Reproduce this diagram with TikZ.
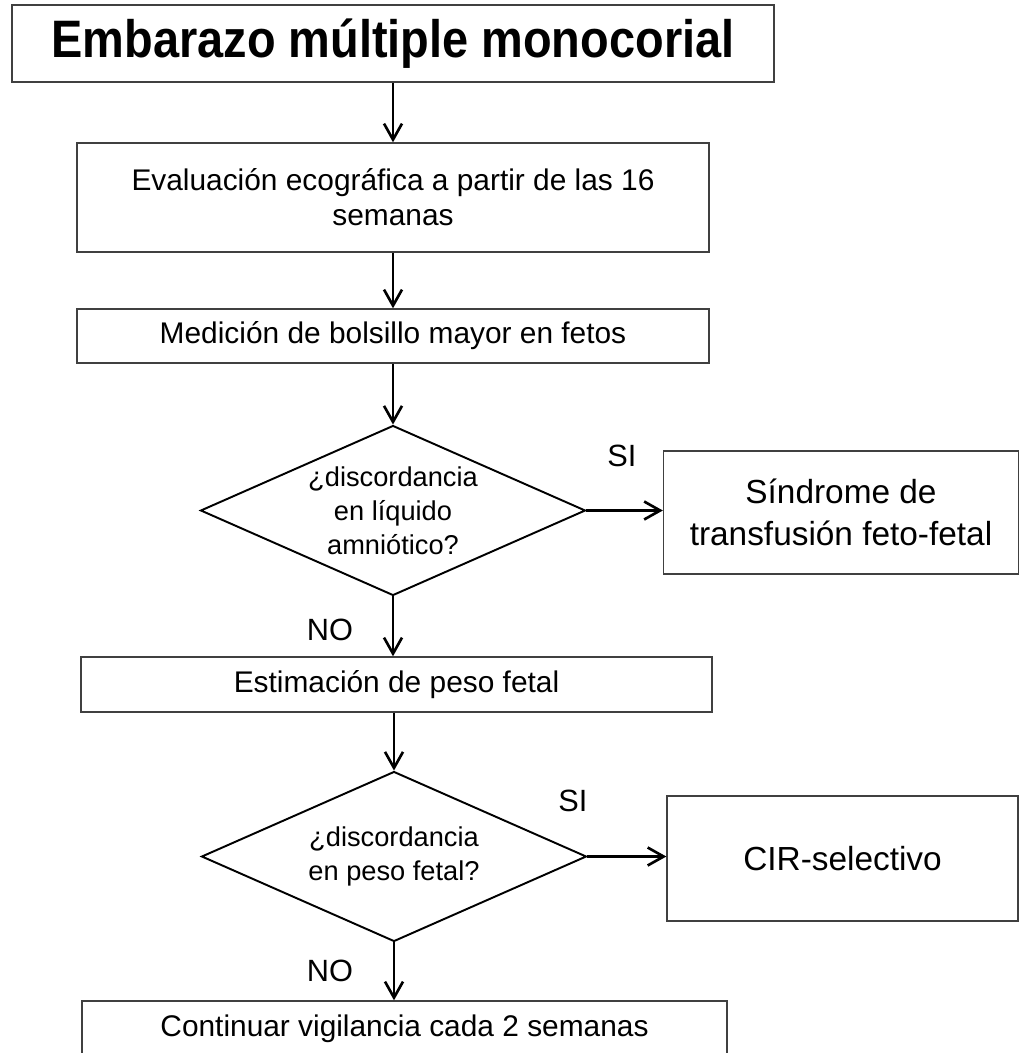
\documentclass[tikz,border=0pt]{standalone}
\usepackage{fontspec}
\setmainfont{Liberation Sans}
\usepackage{xcolor}
\usetikzlibrary{shapes.geometric, arrows.meta, positioning}
\definecolor{frame}{RGB}{64,64,64}
\tikzset{
    box/.style={rectangle, draw=frame, line width=0.8pt, text centered, align=center, inner sep=0pt, font=\fontsize{17pt}{20pt}\selectfont},
    result/.style={box, minimum width=7.1cm, minimum height=2.46cm, font=\fontsize{19pt}{24pt}\selectfont},
    decision/.style={diamond, draw=black, line width=1.1pt, aspect=2.27, inner sep=0pt, minimum width=7.7cm, minimum height=3.4cm, text centered, align=center, font=\fontsize{15.5pt}{19.4pt}\selectfont},
    answer/.style={font=\fontsize{17.5pt}{21pt}\selectfont},
    flow/.style={-{Straight Barb[length=3.2mm, width=3.6mm]}, line width=1.5pt}
}

\begin{document}
\begin{tikzpicture} [
    x=0.02cm, y=-0.02cm,
    titlebox/.style={box, minimum width=15.24cm, minimum height=1.54cm, font=\fontsize{30pt}{34pt}\selectfont\bfseries},
    step_box/.style={box, minimum width=12.64cm}
]
    \useasboundingbox (0,0) rectangle (1024,1053);

    % Title
    \node[titlebox] (title) at (393,43.5) {\scalebox{0.89}[1]{Embarazo múltiple monocorial}};

    % Main column
    \node[step_box, minimum height=2.18cm] (evaluacion) at (393,197.5) {Evaluación ecográfica a partir de las 16\\ semanas};
    \node[step_box, minimum height=1.08cm] (medicion) at (393,336) {Medición de bolsillo mayor en fetos};
    \node[decision] (liquido) at (393,510.5) {¿discordancia\\ en líquido\\ amniótico?};
    \node[step_box, minimum width=12.62cm, minimum height=1.1cm] (estimacion) at (396.5,684.5) {Estimación de peso fetal};
    \node[decision] (peso) at (394,856.5) {¿discordancia\\ en peso fetal?};
    \node[step_box, minimum width=12.9cm, minimum height=1.12cm] (continuar) at (404.5,1029) {Continuar vigilancia cada 2 semanas};

    % Outcomes
    \node[result] (sindrome) at (841,512.5) {Síndrome de\\ transfusión feto-fetal};
    \node[result, minimum width=7.02cm, minimum height=2.5cm] (cir) at (842.5,858.5) {CIR-selectivo};

    % Answers
    \node[answer] (si_liquido) at (622,456) {SI};
    \node[answer] (no_liquido) at (330,630) {NO};
    \node[answer] (si_peso) at (573,801) {SI};
    \node[answer] (no_peso) at (330,971) {NO};

    % Flows
    \draw[flow] (title.south -| evaluacion.north) -- (evaluacion.north);
    \draw[flow] (evaluacion) -- (medicion);
    \draw[flow] (medicion.south -| liquido.north) -- (liquido.north);
    \draw[flow] (liquido.east) -- (liquido.east -| sindrome.west);
    \draw[flow] (liquido.south) -- (liquido.south |- estimacion.north);
    \draw[flow] (estimacion.south -| peso.north) -- (peso.north);
    \draw[flow] (peso.east) -- (peso.east -| cir.west);
    \draw[flow] (peso.south) -- (peso.south |- continuar.north);
\end{tikzpicture}
\end{document}
